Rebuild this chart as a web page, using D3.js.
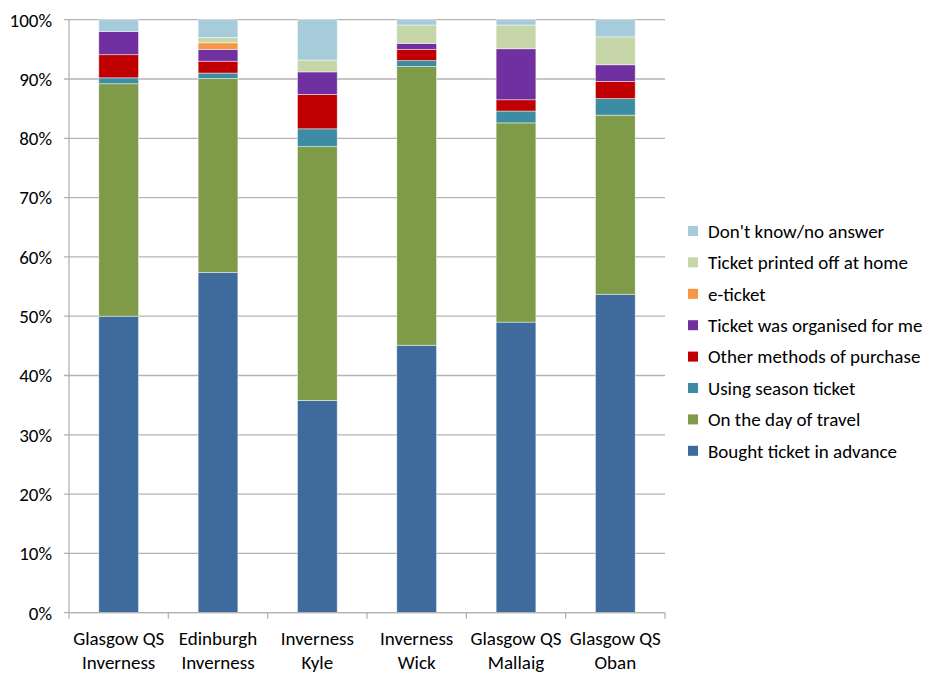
<!DOCTYPE html>
<html><head><meta charset="utf-8">
<script src="https://cdn.jsdelivr.net/npm/d3@7/dist/d3.min.js"></script>
<style>
body{margin:0;background:#fff;}
svg text{font-family:Carlito,Calibri,Lato,sans-serif;fill:#000;}
</style></head>
<body><svg id="c" width="929" height="673"></svg>
<script>
const categories = [["Glasgow QS","Inverness"],["Edinburgh","Inverness"],["Inverness","Kyle"],["Inverness","Wick"],["Glasgow QS","Mallaig"],["Glasgow QS","Oban"]];
const seriesNames = ["Bought ticket in advance","On the day of travel","Using season ticket","Other methods of purchase","Ticket was organised for me","e-ticket","Ticket printed off at home","Don't know/no answer"];
const seriesColors = ["#3F6A9C","#7F9A48","#3C8CA3","#C00000","#7030A0","#F79646","#C6D6A9","#A6CCDC"];
const advance   = [50.0, 57.4, 35.8, 45.1, 49.0, 53.7];
const dayTravel = [39.2, 32.7, 42.8, 47.0, 33.6, 30.2];
const season    = [1.0, 0.9, 3.0, 1.0, 2.0, 2.8];
const other     = [3.9, 2.0, 5.8, 1.9, 1.9, 2.9];
const organised = [3.9, 2.0, 3.8, 1.0, 8.6, 2.8];
const eticket   = [0, 1.1, 0, 0, 0, 0];
const printed   = [0, 0.9, 2.0, 3.1, 4.0, 4.7];
const dontKnow  = [2.0, 3.0, 6.8, 0.9, 0.9, 2.9];
const yTicks = [0,10,20,30,40,50,60,70,80,90,100];

(function(){
const seriesValues = [advance, dayTravel, season, other, organised, eticket, printed, dontKnow];
const svg = d3.select("#c");
const mL = 69, mR = 665, mT = 19.7, mB = 612.7;
const fs = "19px";

const x = d3.scaleBand().domain(d3.range(categories.length)).range([mL, mR]).paddingInner(0.6).paddingOuter(0.3);
const xb = d3.scaleBand().domain(d3.range(categories.length)).range([mL, mR]);
const y = d3.scaleLinear().domain([0,100]).range([mB, mT]);

svg.append("g").selectAll("line").data(yTicks).join("line")
  .attr("x1", mL-5).attr("x2", mR).attr("y1", d=>y(d)).attr("y2", d=>y(d))
  .attr("stroke","#b3b3b3").attr("stroke-width",1.3);

svg.append("line").attr("x1",mL).attr("x2",mL).attr("y1",mT).attr("y2",mB).attr("stroke","#b3b3b3").attr("stroke-width",1.3);

svg.append("g").selectAll("text").data(yTicks).join("text")
  .attr("x", 52).attr("y", d=>y(d)).attr("dy","0.36em").attr("text-anchor","end")
  .style("font-size",fs).text(d=>d+"%");

const rows = categories.map((c,i)=>{const r={i}; seriesNames.forEach((s,j)=>r[s]=seriesValues[j][i]); return r;});
const stacked = d3.stack().keys(seriesNames)(rows);
svg.append("g").selectAll("g").data(stacked).join("g")
  .attr("fill",(d,i)=>seriesColors[i])
  .selectAll("rect").data(d=>d).join("rect")
  .attr("x",d=>x(d.data.i)).attr("width",x.bandwidth())
  .attr("y",d=>y(d[1])).attr("height",d=>Math.max(0,y(d[0])-y(d[1])))
  .attr("stroke","#ffffff").attr("stroke-opacity",0.6).attr("stroke-width",0.75);

svg.append("line").attr("x1",mL).attr("x2",mR).attr("y1",mB).attr("y2",mB).attr("stroke","#b3b3b3").attr("stroke-width",1.3);
svg.append("g").selectAll("line").data(d3.range(categories.length+1)).join("line")
  .attr("x1",d=>mL+d*xb.bandwidth()).attr("x2",d=>mL+d*xb.bandwidth())
  .attr("y1",mB).attr("y2",mB+6).attr("stroke","#b3b3b3").attr("stroke-width",1.3);
const xl = svg.append("g").selectAll("text").data(categories).join("text")
  .attr("text-anchor","middle").style("font-size",fs)
  .attr("transform",(d,i)=>`translate(${xb(i)+xb.bandwidth()/2},0)`);
xl.selectAll("tspan").data(d=>d).join("tspan").attr("x",0).attr("y",(d,k)=>645+k*24).text(d=>d);

const legOrder = d3.range(seriesNames.length).reverse();
const lg = svg.append("g").selectAll("g").data(legOrder).join("g")
  .attr("transform",(d,k)=>`translate(688,${231+k*31.4})`);
lg.append("rect").attr("x",0).attr("y",-5).attr("width",10).attr("height",10).attr("fill",d=>seriesColors[d]);
lg.append("text").attr("x",20).attr("dy","0.36em").style("font-size",fs).text(d=>seriesNames[d]);
})();
</script></body></html>
